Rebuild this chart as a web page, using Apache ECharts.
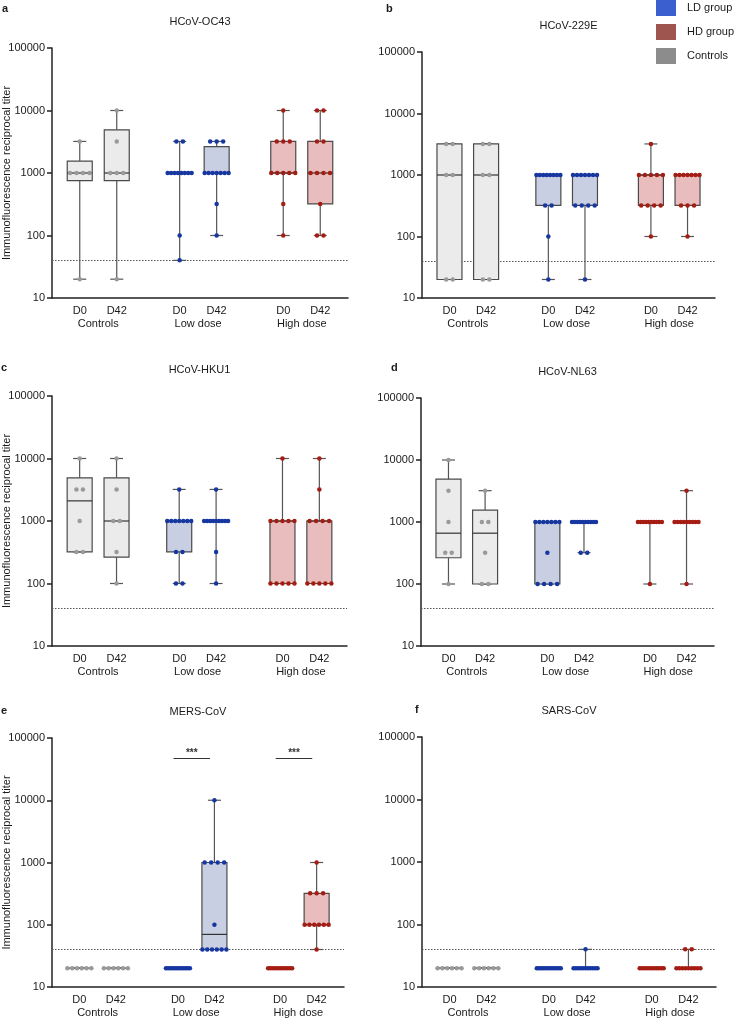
<!DOCTYPE html>
<html lang="en">
<head>
    <meta charset="UTF-8">
    <title>Immunofluorescence titers</title>
    <style>
        html, body {
            margin: 0;
            background: #fff;
        }

        #chart {
            width: 734px;
            height: 1018px;
        }
    </style>
</head>
<body>
    <div id="chart"></div>

    <script src="https://cdn.jsdelivr.net/npm/echarts@6/dist/echarts.min.js"></script>
    <script>
        // panel names / letters
        var panelNames = ['HCoV-OC43', 'HCoV-229E', 'HCoV-HKU1', 'HCoV-NL63', 'MERS-CoV', 'SARS-CoV'];
        var panelLetters = ['a', 'b', 'c', 'd', 'e', 'f'];

        // x labels
        var dayLabels = ['D0', 'D42', 'D0', 'D42', 'D0', 'D42'];
        var groupLabels = ['Controls', 'Low dose', 'High dose'];
        var legendNames = ['Controls', 'LD group', 'HD group'];

        // y ticks + detection cutoff
        var yTicks = [10, 100, 1000, 10000, 100000];
        var cutoff = 40;

        // reciprocal titers, one list per box: Ctrl D0, Ctrl D42, LD D0, LD D42, HD D0, HD D42
        var oc43 = [
            [20, 1000, 1000, 1000, 1000, 3200],
            [20, 1000, 1000, 1000, 3200, 10000],
            [40, 100, 1000, 1000, 1000, 1000, 1000, 1000, 1000, 1000, 3200, 3200],
            [100, 320, 1000, 1000, 1000, 1000, 1000, 1000, 1000, 3200, 3200, 3200],
            [100, 320, 1000, 1000, 1000, 1000, 1000, 3200, 3200, 3200, 10000],
            [100, 100, 320, 1000, 1000, 1000, 1000, 3200, 3200, 10000, 10000]
        ];
        var hcov229e = [
            [20, 20, 1000, 1000, 3200, 3200],
            [20, 20, 1000, 1000, 3200, 3200],
            [20, 100, 320, 320, 1000, 1000, 1000, 1000, 1000, 1000, 1000, 1000],
            [20, 320, 320, 320, 320, 1000, 1000, 1000, 1000, 1000, 1000, 1000],
            [100, 320, 320, 320, 320, 1000, 1000, 1000, 1000, 1000, 3200],
            [100, 320, 320, 320, 1000, 1000, 1000, 1000, 1000, 1000, 1000]
        ];
        var hku1 = [
            [320, 320, 1000, 3200, 3200, 10000],
            [100, 320, 1000, 1000, 3200, 10000],
            [100, 100, 320, 320, 1000, 1000, 1000, 1000, 1000, 1000, 1000, 3200],
            [100, 320, 1000, 1000, 1000, 1000, 1000, 1000, 1000, 1000, 1000, 3200],
            [100, 100, 100, 100, 100, 1000, 1000, 1000, 1000, 1000, 10000],
            [100, 100, 100, 100, 100, 1000, 1000, 1000, 1000, 3200, 10000]
        ];
        var nl63 = [
            [100, 320, 320, 1000, 3200, 10000],
            [100, 100, 320, 1000, 1000, 3200],
            [100, 100, 100, 100, 320, 1000, 1000, 1000, 1000, 1000, 1000, 1000],
            [320, 320, 1000, 1000, 1000, 1000, 1000, 1000, 1000, 1000, 1000, 1000],
            [100, 1000, 1000, 1000, 1000, 1000, 1000, 1000, 1000, 1000, 1000],
            [100, 1000, 1000, 1000, 1000, 1000, 1000, 1000, 1000, 1000, 3200]
        ];
        var mers = [
            [20, 20, 20, 20, 20, 20],
            [20, 20, 20, 20, 20, 20],
            [20, 20, 20, 20, 20, 20, 20, 20, 20, 20, 20, 20],
            [40, 40, 40, 40, 40, 40, 100, 1000, 1000, 1000, 1000, 10000],
            [20, 20, 20, 20, 20, 20, 20, 20, 20, 20, 20],
            [40, 100, 100, 100, 100, 100, 100, 320, 320, 320, 1000]
        ];
        var sars = [
            [20, 20, 20, 20, 20, 20],
            [20, 20, 20, 20, 20, 20],
            [20, 20, 20, 20, 20, 20, 20, 20, 20, 20, 20, 20],
            [20, 20, 20, 20, 20, 20, 20, 20, 20, 20, 20, 40],
            [20, 20, 20, 20, 20, 20, 20, 20, 20, 20, 20],
            [20, 20, 20, 20, 20, 20, 20, 20, 20, 40, 40]
        ];
        var panelData = [oc43, hcov229e, hku1, nl63, mers, sars];

        // significance bars (panel e): [from box, to box, titer level, text]
        var sigPanel = 4;
        var sigBars = [[2, 3, 48000, '***'], [4, 5, 48000, '***']];

        // ---- layout / style ----
        var xPos = [0.75, 1.75, 3.45, 4.45, 6.25, 7.25];
        var groupCenters = [1.25, 3.95, 6.75];
        var grids = [
            {left: 52, top: 48, width: 296, height: 250},
            {left: 422, top: 52, width: 293, height: 246},
            {left: 52, top: 396, width: 295, height: 250},
            {left: 421, top: 398, width: 293, height: 248},
            {left: 52, top: 738, width: 292, height: 249},
            {left: 422, top: 737, width: 294, height: 250}
        ];
        var letterPos = [[2, 3], [386, 3], [1, 362], [391, 362], [1, 705], [415, 704]];

        var FONT = '"Liberation Sans", Arial, sans-serif';
        var TXT = '#1a1a1a';
        var dotColors = ['#9a9a9a', '#1636a0', '#a51c12'];
        var boxFills = ['#ebebeb', '#c9cfe3', '#e9bdbd'];
        var legendColors = ['#8c8c8c', '#3c5fd0', '#9e5550'];

        // Prism style quartiles
        function quant(s, q) {
            var p = q * (s.length + 1);
            if (p <= 1) return s[0];
            if (p >= s.length) return s[s.length - 1];
            var lo = Math.floor(p), f = p - lo;
            return s[lo - 1] + f * (s[lo] - s[lo - 1]);
        }

        function boxStats(vals) {
            var s = vals.slice().sort(function(a, b) { return a - b; });
            var n = s.length;
            var med = n % 2 ? s[(n - 1) / 2] : (s[n / 2 - 1] + s[n / 2]) / 2;
            return [s[0], quant(s, 0.25), med, quant(s, 0.75), s[n - 1]];
        }

        // spread equal values side by side
        function dotPoints(vals, x, pxPerUnit) {
            var counts = {};
            vals.forEach(function(v) { counts[v] = (counts[v] || 0) + 1; });
            var pts = [];
            Object.keys(counts).forEach(function(k) {
                var c = counts[k];
                var step = c > 1 ? Math.min(6.5, 24 / (c - 1)) : 0;
                for (var i = 0; i < c; i++) {
                    pts.push([x + (i - (c - 1) / 2) * step / pxPerUnit, +k]);
                }
            });
            return pts;
        }

        function renderBox(params, api) {
            var x = api.value(0);
            var c = [1, 2, 3, 4, 5].map(function(d) { return api.coord([x, api.value(d)]); });
            var cx = c[0][0];
            var hw = 12.5, cw = 6.5;
            var ls = {stroke: '#555', lineWidth: 1.2};
            return {
                type: 'group',
                children: [
                    {type: 'line', shape: {x1: cx, y1: c[0][1], x2: cx, y2: c[1][1]}, style: ls},
                    {type: 'line', shape: {x1: cx, y1: c[3][1], x2: cx, y2: c[4][1]}, style: ls},
                    {type: 'line', shape: {x1: cx - cw, y1: c[0][1], x2: cx + cw, y2: c[0][1]}, style: ls},
                    {type: 'line', shape: {x1: cx - cw, y1: c[4][1], x2: cx + cw, y2: c[4][1]}, style: ls},
                    {type: 'rect', shape: {x: cx - hw, y: c[3][1], width: 2 * hw, height: c[1][1] - c[3][1]},
                        style: {fill: boxFills[api.value(6)], stroke: '#4a4a4a', lineWidth: 1.2}},
                    {type: 'line', shape: {x1: cx - hw, y1: c[2][1], x2: cx + hw, y2: c[2][1]},
                        style: {stroke: '#333', lineWidth: 1.2}}
                ]
            };
        }

        var option = {
            animation: false,
            backgroundColor: '#fff',
            textStyle: {fontFamily: FONT},
            title: [],
            legend: {
                orient: 'vertical',
                left: 656,
                top: 0,
                padding: 0,
                itemWidth: 20,
                itemHeight: 16,
                itemGap: 8,
                selectedMode: false,
                textStyle: {fontSize: 11, color: TXT, fontFamily: FONT, padding: [0, 0, 0, 6]},
                data: [1, 2, 0].map(function(g) {
                    return {name: legendNames[g], icon: 'rect', itemStyle: {color: legendColors[g]}};
                })
            },
            grid: [],
            xAxis: [],
            yAxis: [],
            series: []
        };

        panelData.forEach(function(boxes, p) {
            var g = grids[p];
            var pxPerUnit = g.width / 8;

            option.title.push({
                text: panelNames[p], left: g.left + g.width / 2, top: g.top - 32,
                textAlign: 'center', padding: 0,
                textStyle: {fontSize: 11, fontWeight: 'normal', color: TXT, fontFamily: FONT}
            });
            option.title.push({
                text: panelLetters[p], left: letterPos[p][0], top: letterPos[p][1], padding: 0,
                textStyle: {fontSize: 11, fontWeight: 'bold', color: TXT, fontFamily: FONT}
            });

            // keep grids where they are, labels may run to the page edge
            option.grid.push({
                left: g.left, top: g.top, width: g.width, height: g.height,
                containLabel: false, outerBoundsMode: 'none'
            });

            var axisLine = {show: true, onZero: false, lineStyle: {color: '#222', width: 1.5}};
            option.xAxis.push({
                gridIndex: p, type: 'value', min: 0, max: 8, position: 'bottom',
                axisLine: axisLine, axisTick: {show: false}, splitLine: {show: false},
                axisLabel: {
                    customValues: xPos, margin: 7, fontSize: 11, color: TXT, fontFamily: FONT,
                    formatter: function(v) { return dayLabels[xPos.indexOf(v)]; }
                }
            });
            option.xAxis.push({
                gridIndex: p, type: 'value', min: 0, max: 8, position: 'bottom',
                axisLine: {show: false}, axisTick: {show: false}, splitLine: {show: false},
                axisLabel: {
                    customValues: groupCenters, margin: 20, fontSize: 11, color: TXT, fontFamily: FONT,
                    formatter: function(v) { return groupLabels[groupCenters.indexOf(v)]; }
                }
            });
            option.yAxis.push({
                gridIndex: p, type: 'log', logBase: 10, min: 10, max: 100000,
                name: p % 2 === 0 ? 'Immunofluorescence reciprocal titer' : '',
                nameLocation: 'middle', nameGap: 40, nameMoveOverlap: false,
                nameTextStyle: {fontSize: 11, color: TXT, fontFamily: FONT},
                axisLine: axisLine,
                axisTick: {show: true, length: 5, customValues: yTicks, lineStyle: {color: '#222', width: 1.5}},
                minorTick: {show: false},
                splitLine: {show: false},
                axisLabel: {
                    customValues: yTicks, margin: 7, fontSize: 11, color: TXT, fontFamily: FONT,
                    formatter: function(v) { return String(Math.round(v)); }
                }
            });

            var xi = p * 2;
            option.series.push({
                type: 'custom',
                xAxisIndex: xi, yAxisIndex: p,
                renderItem: renderBox,
                encode: {x: 0, y: [1, 2, 3, 4, 5]},
                z: 2,
                silent: true,
                data: boxes.map(function(vals, b) {
                    return [xPos[b]].concat(boxStats(vals)).concat([Math.floor(b / 2)]);
                })
            });

            [0, 1, 2].forEach(function(grp) {
                var pts = dotPoints(boxes[grp * 2], xPos[grp * 2], pxPerUnit)
                    .concat(dotPoints(boxes[grp * 2 + 1], xPos[grp * 2 + 1], pxPerUnit));
                var s = {
                    name: legendNames[grp],
                    type: 'scatter',
                    xAxisIndex: xi, yAxisIndex: p,
                    symbol: 'circle', symbolSize: 4.5,
                    itemStyle: {color: dotColors[grp], opacity: 1},
                    z: 5,
                    silent: true,
                    data: pts
                };
                if (grp === 0) {
                    s.markLine = {
                        silent: true, symbol: 'none', z: 1,
                        label: {show: false},
                        lineStyle: {type: [1.5, 1.5], color: '#555', width: 1},
                        data: [{yAxis: cutoff}]
                    };
                }
                if (grp === 1 && p === sigPanel) {
                    s.markLine = {
                        silent: true, symbol: 'none',
                        lineStyle: {type: 'solid', color: '#333', width: 1},
                        label: {show: true, position: 'insideMiddleTop', distance: 0, fontSize: 10,
                            fontWeight: 'bold', color: '#333', fontFamily: FONT},
                        data: sigBars.map(function(sb) {
                            return [
                                {coord: [xPos[sb[0]] - 0.12, sb[2]], label: {formatter: sb[3]}},
                                {coord: [xPos[sb[1]] - 0.12, sb[2]]}
                            ];
                        })
                    };
                }
                option.series.push(s);
            });
        });

        var myChart = echarts.init(document.getElementById('chart'));
        myChart.setOption(option);
    </script>
</body>
</html>
